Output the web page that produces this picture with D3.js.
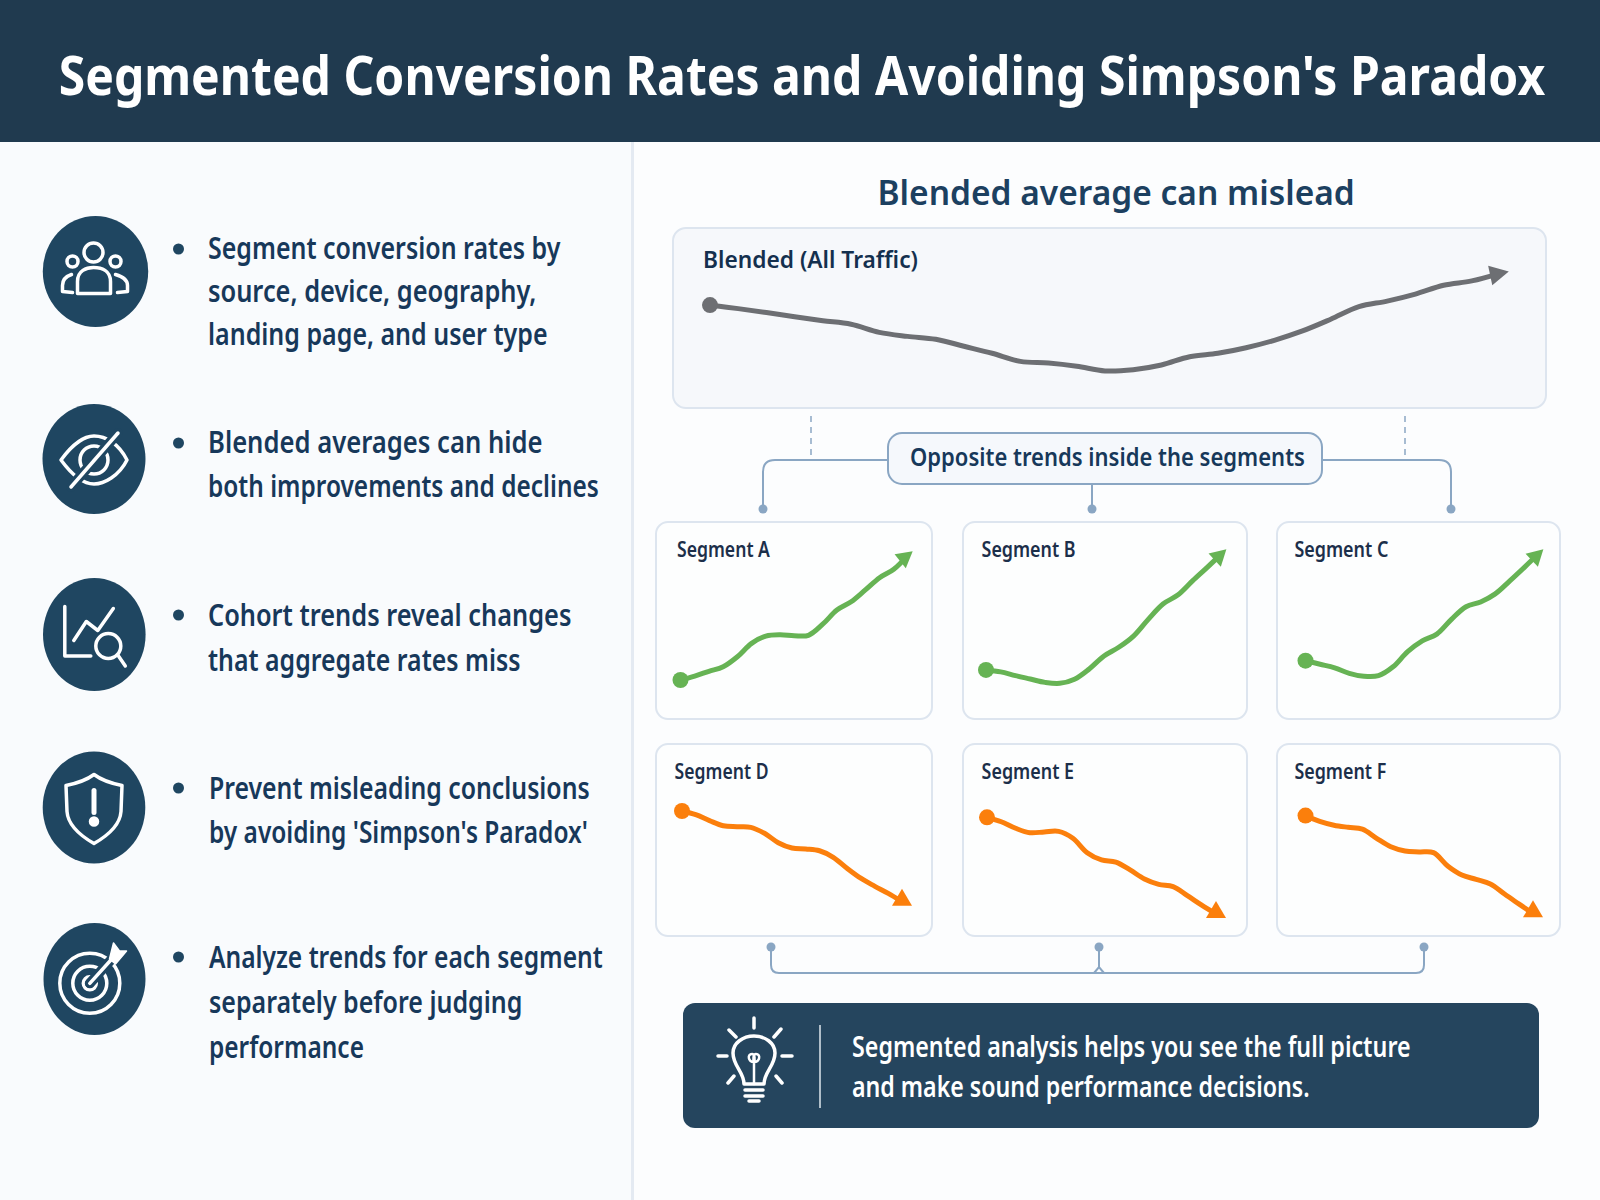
<!DOCTYPE html>
<html>
<head>
<meta charset="utf-8">
<script src="https://cdn.jsdelivr.net/npm/d3@7"></script>
<style>
  html, body { margin: 0; padding: 0; background: #fcfdfe; }
  svg { display: block; }
  text { font-family: "Noto Sans", sans-serif; }
</style>
</head>
<body>
<div id="chart"></div>
<script>
// Texts
const titleText = "Segmented Conversion Rates and Avoiding Simpson's Paradox";
const subtitleText = "Blended average can mislead";
const blendedLabel = "Blended (All Traffic)";
const calloutText = "Opposite trends inside the segments";
const bulletLines = [
    ["Segment conversion rates by", "source, device, geography,", "landing page, and user type"],
    ["Blended averages can hide", "both improvements and declines"],
    ["Cohort trends reveal changes", "that aggregate rates miss"],
    ["Prevent misleading conclusions", "by avoiding 'Simpson's Paradox'"],
    ["Analyze trends for each segment", "separately before judging", "performance"]
];
const bannerLines = ["Segmented analysis helps you see the full picture", "and make sound performance decisions."];

// Series values, index 0-100
const blendedValues = [57.2, 55.2, 53, 50.7, 48.5, 46.5, 42, 39.8, 38.2, 34.3, 30.4, 25.9, 25, 23.2, 20.6, 21.3, 23.9, 28.5, 30.4, 33.5, 37.6, 42.8, 49.3, 56.3, 59.4, 63.3, 68.2, 70.6, 74.8];
const segmentNames = ["Segment A", "Segment B", "Segment C", "Segment D", "Segment E", "Segment F"];
const segmentA = [19.8, 21.8, 24.2, 26.5, 31.6, 38.4, 42.1, 42.8, 42.3, 42.5, 48.1, 55.3, 59.5, 65.5, 71.7, 76, 83.2];
const segmentB = [24.9, 23.9, 22, 20.3, 18.6, 18.1, 20.2, 25.4, 32, 36.4, 42.1, 50.6, 58.4, 62.9, 70.1, 77, 84.1];
const segmentC = [29.6, 27.8, 26, 23.2, 21.7, 22, 26.5, 34.2, 39.7, 43.1, 50.6, 57, 59.4, 63.5, 70.1, 77, 84.1];
const segmentD = [65.1, 63.2, 60.1, 57.4, 56.9, 56.6, 53.5, 48.6, 45.8, 45.3, 44.4, 41, 35.3, 30.1, 26, 22.2, 17.9];
const segmentE = [61.8, 59.5, 56.1, 53.8, 54.2, 54.5, 50.9, 43.4, 39.6, 38.5, 34.4, 29.7, 26.9, 25.7, 21, 16.1, 11.5];
const segmentF = [62.7, 59.7, 57.7, 56.6, 55.7, 50.9, 46.5, 44.3, 43.8, 43.4, 36.5, 31.8, 29.5, 27.1, 21.9, 16.7, 11.8];
const segmentValues = [segmentA, segmentB, segmentC, segmentD, segmentE, segmentF];

// Layout, kept apart from the data
const bulletLayout = [
    { cx: 95.5, cy: 271.5, rx: 52.7, ry: 55.5, dotY: 249, x: 208, base: [259, 302, 345], widths: [352.6, 328.6, 339.6] },
    { cx: 94, cy: 459, rx: 51.5, ry: 55, dotY: 443, x: 208, base: [453, 497], widths: [334.7, 391] },
    { cx: 94.3, cy: 634.5, rx: 51.3, ry: 56.5, dotY: 615, x: 208, base: [625.7, 671], widths: [363.5, 312.6] },
    { cx: 94, cy: 807.5, rx: 51.3, ry: 56, dotY: 788, x: 209, base: [799, 843], widths: [380.8, 379] },
    { cx: 94.5, cy: 979, rx: 51, ry: 56, dotY: 957, x: 209, base: [968, 1013, 1058], widths: [394, 313.5, 155] }
];
const panelLayout = [
    { x0: 656, x1: 932, top: 522, bottom: 719, lineX: [680.5, 908], labelX: 677, labelY: 556.7, labelW: 93 },
    { x0: 963, x1: 1247, top: 522, bottom: 719, lineX: [986, 1222], labelX: 981.6, labelY: 556.7, labelW: 94 },
    { x0: 1277, x1: 1560, top: 522, bottom: 719, lineX: [1305.5, 1539], labelX: 1294.4, labelY: 556.7, labelW: 94 },
    { x0: 656, x1: 932, top: 744, bottom: 936, lineX: [682, 902], labelX: 674.6, labelY: 779, labelW: 94 },
    { x0: 963, x1: 1247, top: 744, bottom: 936, lineX: [987, 1216], labelX: 981.6, labelY: 779, labelW: 92.5 },
    { x0: 1277, x1: 1560, top: 744, bottom: 936, lineX: [1305.5, 1533], labelX: 1294.4, labelY: 779, labelW: 92 }
];

const navy = "#1f4661";
const textDark = "#17385a";
const connector = "#8aa6c3";
const green = "#66b354";
const orange = "#fb7f0c";
const grey = "#6d6f73";

const svg = d3.select("#chart").append("svg")
    .attr("width", 1600)
    .attr("height", 1200);

// Text helper, the line is squeezed sideways to its measured width
function addText(parent, str, x, y, size, weight, color, width) {
    const t = parent.append("text")
        .attr("font-size", size)
        .attr("font-weight", weight)
        .attr("fill", color)
        .text(str);
    const natural = t.node().getComputedTextLength();
    t.attr("transform", `translate(${x},${y}) scale(${width / natural},1)`);
    return t;
}

// Icons, drawn around the circle centre
function drawPeople(g) {
    g.append("circle").attr("cx", -2).attr("cy", -19).attr("r", 9.5);
    g.append("circle").attr("cx", -23).attr("cy", -10).attr("r", 5.5);
    g.append("circle").attr("cx", 20).attr("cy", -10).attr("r", 5.5);
    g.append("path").attr("d", "M-18,22 L-18,10 C-18,-1 -9,-4 -2,-4 C6,-4 15,-1 15,10 L15,22 Z");
    g.append("path").attr("d", "M-24,3 C-30,5 -33,9 -33,14 L-33,20 L-23,21");
    g.append("path").attr("d", "M20,3 C27,5 32,9 32,14 L32,20 L22,21");
}
function drawEye(g) {
    g.append("path").attr("d", "M-33,1 C-20,-17 -8,-23 0,-23 C12,-23 25,-15 33,1 C25,17 10,25 0,25 C-10,25 -22,16 -33,1 Z");
    g.append("circle").attr("cx", 0).attr("cy", 1).attr("r", 14);
    g.append("path").attr("d", "M-23,28 L24,-26").attr("stroke", navy).attr("stroke-width", 10);
    g.append("path").attr("d", "M-23,28 L24,-26");
}
function drawSearch(g) {
    g.append("path").attr("d", "M-29.5,-28 L-29.5,21.5 L-3.5,21.5");
    g.append("path").attr("d", "M-20.5,6 L-8,-13 L3.5,-4 L19,-26");
    g.append("circle").attr("cx", 14).attr("cy", 11.5).attr("r", 12.5);
    g.append("path").attr("d", "M23.5,20.5 L31,31.5");
}
function drawShield(g) {
    g.append("path").attr("d", "M0,-33 C8,-27 18,-24 28,-22 L27,4 C26,18 14,28 0,36 C-14,28 -26,18 -27,4 L-28,-22 C-18,-24 -8,-27 0,-33 Z");
    g.append("path").attr("d", "M0,-17 L0,5").attr("stroke-width", 5);
    g.append("circle").attr("cx", 0).attr("cy", 14).attr("r", 3.5).attr("fill", "#ffffff");
}
function drawTarget(g) {
    g.append("circle").attr("cx", -4.7).attr("cy", 4.3).attr("r", 30);
    g.append("circle").attr("cx", -4.7).attr("cy", 4.3).attr("r", 17);
    g.append("circle").attr("cx", -4.7).attr("cy", 4.3).attr("r", 6.5);
    g.append("path").attr("d", "M-4.7,4.3 L20,-23").attr("stroke", navy).attr("stroke-width", 10);
    g.append("path").attr("d", "M-4.7,4.3 L20,-23");
    g.append("path").attr("d", "M15,-20 L19,-36 L25,-28 L32,-28 L21,-15 Z").attr("fill", "#ffffff").attr("stroke-width", 1.5);
}
const iconDrawers = [drawPeople, drawEye, drawSearch, drawShield, drawTarget];

// Backgrounds and header
svg.append("rect").attr("width", 1600).attr("height", 1200).attr("fill", "#fcfdfe");
svg.append("rect").attr("y", 142).attr("width", 632).attr("height", 1058).attr("fill", "#f9fbfd");
svg.append("rect").attr("x", 631).attr("y", 142).attr("width", 3).attr("height", 1058).attr("fill", "#e4eaf2");
svg.append("rect").attr("width", 1600).attr("height", 142).attr("fill", "#203a4f");
addText(svg, titleText, 58.7, 95, 54, 700, "#ffffff", 1487);

// Left column
const left = svg.append("g");
bulletLayout.forEach((b, i) => {
    left.append("ellipse")
        .attr("cx", b.cx).attr("cy", b.cy)
        .attr("rx", b.rx).attr("ry", b.ry)
        .attr("fill", navy);
    left.append("circle")
        .attr("cx", 178.5).attr("cy", b.dotY).attr("r", 5.5)
        .attr("fill", navy);
    bulletLines[i].forEach((line, j) => {
        addText(left, line, b.x, b.base[j], 30, 600, textDark, b.widths[j]);
    });
    const icon = left.append("g")
        .attr("transform", `translate(${b.cx},${b.cy})`)
        .attr("fill", "none")
        .attr("stroke", "#ffffff")
        .attr("stroke-width", 3.5)
        .attr("stroke-linecap", "round")
        .attr("stroke-linejoin", "round");
    iconDrawers[i](icon);
});

// Line chart helper: one panel, one series, scales from the panel box
function drawSeries(values, xRange, yRange, color, headShape, uprightHead) {
    const xScale = d3.scaleLinear().domain([0, values.length - 1]).range(xRange);
    const yScale = d3.scaleLinear().domain([0, 100]).range(yRange);
    const line = d3.line()
        .x((d, i) => xScale(i))
        .y(d => yScale(d))
        .curve(d3.curveCatmullRom);

    const n = values.length - 1;
    svg.append("path")
        .attr("d", line(values))
        .attr("fill", "none")
        .attr("stroke", color)
        .attr("stroke-width", 5)
        .attr("stroke-linejoin", "round");

    svg.append("circle")
        .attr("cx", xScale(0))
        .attr("cy", yScale(values[0]))
        .attr("r", 8)
        .attr("fill", color);

    // Arrow head turns with the last stretch of the line
    const angle = uprightHead ? 0 : Math.atan2(
        yScale(values[n]) - yScale(values[n - 2]),
        xScale(n) - xScale(n - 2)) * 180 / Math.PI;
    svg.append("path")
        .attr("d", headShape)
        .attr("transform", `translate(${xScale(n)},${yScale(values[n])}) rotate(${angle})`)
        .attr("fill", color);
}

// Right column
addText(svg, subtitleText, 877.5, 205, 35, 600, "#1c4060", 477.5);

svg.append("rect")
    .attr("x", 673).attr("y", 228).attr("width", 873).attr("height", 180).attr("rx", 13)
    .attr("fill", "#f6f8fb").attr("stroke", "#dde5ef").attr("stroke-width", 2);
addText(svg, blendedLabel, 703, 268, 24, 600, "#14304e", 215);
drawSeries(blendedValues, [710, 1500], [408, 228], grey, "M9,0 L-10,-10 L-10,10 Z", false);

// Connectors above the segments
const lines = svg.append("g").attr("fill", "none").attr("stroke", connector);
lines.append("path").attr("d", "M811,416 L811,458").attr("stroke-width", 1.5).attr("stroke-dasharray", "6 5");
lines.append("path").attr("d", "M1405,416 L1405,458").attr("stroke-width", 1.5).attr("stroke-dasharray", "6 5");
lines.append("path").attr("d", "M888,460 L775,460 Q763,460 763,472 L763,509").attr("stroke-width", 2);
lines.append("path").attr("d", "M1322,460 L1439,460 Q1451,460 1451,472 L1451,509").attr("stroke-width", 2);
lines.append("path").attr("d", "M1092,484 L1092,509").attr("stroke-width", 2);
[763, 1092, 1451].forEach(x => {
    svg.append("circle").attr("cx", x).attr("cy", 509).attr("r", 4.5).attr("fill", connector);
});

svg.append("rect")
    .attr("x", 888).attr("y", 433).attr("width", 434).attr("height", 51).attr("rx", 14)
    .attr("fill", "#f5f8fc").attr("stroke", connector).attr("stroke-width", 2);
addText(svg, calloutText, 910, 466, 25, 600, "#17385a", 395);

// Segment panels
segmentValues.forEach((values, i) => {
    const p = panelLayout[i];
    const rising = i < 3;
    svg.append("rect")
        .attr("x", p.x0).attr("y", p.top)
        .attr("width", p.x1 - p.x0).attr("height", p.bottom - p.top)
        .attr("rx", 12)
        .attr("fill", "#fdfefe").attr("stroke", "#dde5ef").attr("stroke-width", 2);
    addText(svg, segmentNames[i], p.labelX, p.labelY, 21, 600, "#1c2f4a", p.labelW);
    drawSeries(values, p.lineX, [p.bottom, p.top], rising ? green : orange,
        rising ? "M6,0 L-10,-9 L-10,9 Z" : "M0,-13 L10,4 L-10,4 Z", !rising);
});

// Connectors below the segments
const lower = svg.append("g").attr("fill", "none").attr("stroke", connector).attr("stroke-width", 2);
lower.append("path").attr("d", "M771,947 L771,965 Q771,973 779,973 L1416,973 Q1424,973 1424,965 L1424,947");
lower.append("path").attr("d", "M1099,947 L1099,967 M1094,973 L1099,967 L1104,973");
[771, 1099, 1424].forEach(x => {
    svg.append("circle").attr("cx", x).attr("cy", 947).attr("r", 4.5).attr("fill", connector);
});

// Bottom banner
svg.append("rect")
    .attr("x", 683).attr("y", 1003).attr("width", 856).attr("height", 125).attr("rx", 12)
    .attr("fill", "#25455e");
svg.append("line")
    .attr("x1", 820).attr("x2", 820).attr("y1", 1025).attr("y2", 1108)
    .attr("stroke", "#dfe7ee").attr("stroke-width", 1.5);
addText(svg, bannerLines[0], 852, 1057, 28, 600, "#ffffff", 559);
addText(svg, bannerLines[1], 852, 1097, 28, 600, "#ffffff", 458);

// Light bulb
const bulb = svg.append("g")
    .attr("fill", "none").attr("stroke", "#ffffff").attr("stroke-width", 3.5)
    .attr("stroke-linecap", "round").attr("stroke-linejoin", "round");
bulb.append("path").attr("d", "M744,1084 C744,1072 733,1066 733,1053 C733,1043 743,1036 754,1036 C765,1036 775,1043 775,1053 C775,1066 764,1072 764,1084 Z");
bulb.append("path").attr("d", "M754,1084 L754,1062 M754,1062 C748,1062 747,1054 752,1054 C755,1054 755,1060 754,1062 C753,1060 753,1054 756,1054 C761,1054 760,1062 754,1062").attr("stroke-width", 2.5);
bulb.append("path").attr("d", "M745,1090 L763,1090 M745,1096 L763,1096 M749,1101 L759,1101");
bulb.append("path").attr("d", "M754,1018 L754,1028 M718,1056 L727,1056 M782,1056 L792,1056 M729,1030 L736,1037 M781,1029 L774,1037 M728,1083 L734,1076 M782,1083 L776,1076");
</script>
</body>
</html>
